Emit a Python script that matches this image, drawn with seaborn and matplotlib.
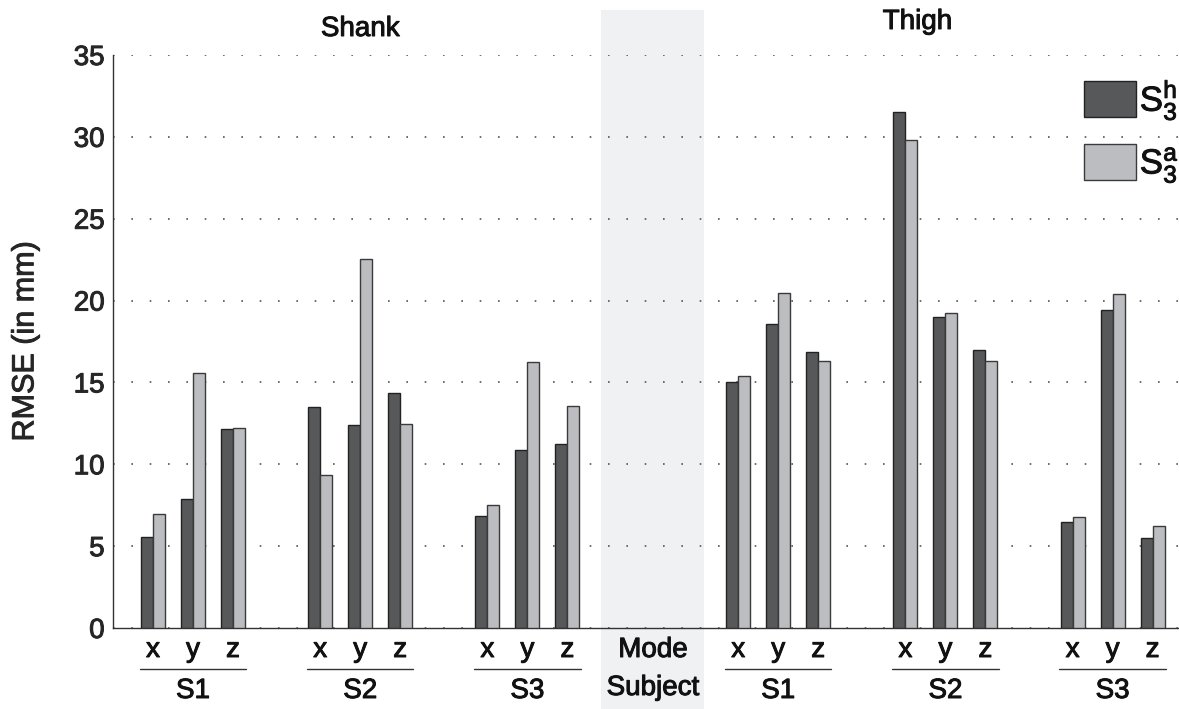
import numpy as np
import pandas as pd
import matplotlib
matplotlib.use("Agg")
import matplotlib.pyplot as plt
import matplotlib.patheffects as pe
import seaborn as sns
from matplotlib.patches import Rectangle
from matplotlib.text import Text
from matplotlib.transforms import blended_transform_factory

# ---------------- data ----------------
segments = ["Shank", "Thigh"]
subjects = ["S1", "S2", "S3"]
modes = ["x", "y", "z"]
# order: Shank S1 x,y,z, S2 x,y,z, S3 x,y,z, Thigh S1..S3
s3h_values = [5.54, 7.90, 12.14, 13.52, 12.40, 14.36, 6.82, 10.89, 11.22,
              15.05, 18.59, 16.88, 31.54, 19.02, 16.97, 6.48, 19.44, 5.50]
s3a_values = [6.96, 15.56, 12.22, 9.37, 22.52, 12.44, 7.49, 16.23, 13.54,
              15.42, 20.46, 16.32, 29.80, 19.22, 16.30, 6.76, 20.40, 6.26]
methods = [r"$\mathregular{S_3^h}$", r"$\mathregular{S_3^a}$"]
yticks = [0, 5, 10, 15, 20, 25, 30, 35]
y_label = "RMSE (in mm)"
mode_row_label = "Mode"
subject_row_label = "Subject"

# ---------------- layout ----------------
W, H = 1179, 709
group_pitch = 4.18
group_slots = [0, 1, 2, 3.5, 4.5, 5.5]   # 6 subject groups with a gap in the middle
gap_slot = 2.75
FS = 20

rows = []
pos_list = []
k = 0
for gi, slot in enumerate(group_slots):
    for mi, m in enumerate(modes):
        pos = round(1 + group_pitch * slot + (mi - 1), 4)
        pos_list.append(pos)
        rows.append({"pos": pos, "value": s3h_values[k], "method": methods[0]})
        rows.append({"pos": pos, "value": s3a_values[k], "method": methods[1]})
        k += 1
df = pd.DataFrame(rows)

sns.set_theme(style="white")
plt.rcParams["font.family"] = ["Liberation Sans", "DejaVu Sans"]
plt.rcParams["mathtext.fontset"] = "custom"
plt.rcParams["mathtext.rm"] = "Liberation Sans"
plt.rcParams["text.color"] = "#111111"

fig = plt.figure(figsize=(W / 100, H / 100), dpi=100)
fig.patch.set_facecolor("white")

# gray band behind the "Mode / Subject" column
band = Rectangle((601 / W, 0), (704 - 601) / W, 1 - 10 / H,
                 transform=fig.transFigure, facecolor="#f0f1f3",
                 edgecolor="none", zorder=-1)
fig.patches.append(band)

ax_left, ax_right = 113 / W, 1.0
ax_bottom, ax_top = 1 - 628 / H, 1 - 55 / H
ax = fig.add_axes([ax_left, ax_bottom, ax_right - ax_left, ax_top - ax_bottom])
ax.set_zorder(2)
ax.set_facecolor("none")
ax.patch.set_alpha(0)

palette = {methods[0]: "#57585a", methods[1]: "#bcbdc0"}
edges = {methods[0]: "#222222", methods[1]: "#3a3a3a"}
sns.barplot(data=df, x="pos", y="value", hue="method", native_scale=True,
            palette=palette, saturation=1, width=0.6, dodge=True,
            edgecolor="#2a2a2a", linewidth=1.0, legend=False, ax=ax, zorder=3)
for cont, m in zip(ax.containers, methods):
    for p in cont.patches:
        p.set_edgecolor(edges[m])

# x range: 40 px per unit, first bar pair centred at 0 -> pixel 153
px_per_unit = 40.0
ax.set_xlim((113 - 153) / px_per_unit, (W - 153) / px_per_unit)
ax.set_ylim(0, 35)
ax.set_yticks(yticks)
ax.set_yticklabels([str(t) for t in yticks], fontsize=FS)
ax.set_xticks([])
ax.set_xlabel("")
ax.set_ylabel(y_label, fontsize=22, labelpad=24)
ax.tick_params(axis="y", direction="in", length=5, width=1, color="#333333", pad=6)
ax.tick_params(axis="x", length=0)

for s in ["top", "right"]:
    ax.spines[s].set_visible(False)
for s in ["left", "bottom"]:
    ax.spines[s].set_color("#333333")
    ax.spines[s].set_linewidth(1.0)

ax.set_axisbelow(True)
ax.yaxis.grid(True, linestyle=(0, (1, 10)), color="#555555", linewidth=1.2)
ax.xaxis.grid(False)

# ---------- category labels below axis ----------
tr = blended_transform_factory(ax.transData, fig.transFigure)
def fy(px):
    return 1 - px / H

for i, pos in enumerate(pos_list):
    ax.text(pos, fy(650), modes[i % 3], transform=tr, ha="center", va="center",
            fontsize=FS, clip_on=False)
for gi, slot in enumerate(group_slots):
    c = 1 + group_pitch * slot
    ax.plot([c - 1.33, c + 1.33], [fy(669), fy(669)], transform=tr,
            color="#333333", linewidth=1.0, clip_on=False)
    ax.text(c, fy(691), subjects[gi % 3], transform=tr, ha="center", va="center",
            fontsize=FS, clip_on=False)

gap_c = 1 + group_pitch * gap_slot
ax.text(gap_c, fy(650), mode_row_label, transform=tr, ha="center", va="center",
        fontsize=FS, clip_on=False)
ax.text(gap_c, fy(688), subject_row_label, transform=tr, ha="center", va="center",
        fontsize=FS, clip_on=False)

# segment titles
ax.text(1 + group_pitch * 1, fy(29), segments[0], transform=tr, ha="center",
        va="center", fontsize=FS, clip_on=False)
ax.text(1 + group_pitch * 4.5 - 0.7, fy(22), segments[1], transform=tr, ha="center",
        va="center", fontsize=FS, clip_on=False)

# legend
handles = [Rectangle((0, 0), 1, 1, facecolor=palette[m], edgecolor=edges[m],
                     linewidth=1.0) for m in methods]
leg = ax.legend(handles, methods, loc="upper right",
                bbox_to_anchor=(1.0 + 24 / W, 1 - 53 / H), bbox_transform=fig.transFigure,
                frameon=False, fontsize=25, handlelength=1.5, handleheight=1.22,
                labelspacing=0.62, handletextpad=0.1, borderpad=0.2)

# slightly heavier text strokes, like the reference rendering
for t in fig.findobj(Text):
    if t.get_text():
        t.set_path_effects([pe.withStroke(linewidth=0.7, foreground=t.get_color())])

fig.savefig("out.png", dpi=100)
